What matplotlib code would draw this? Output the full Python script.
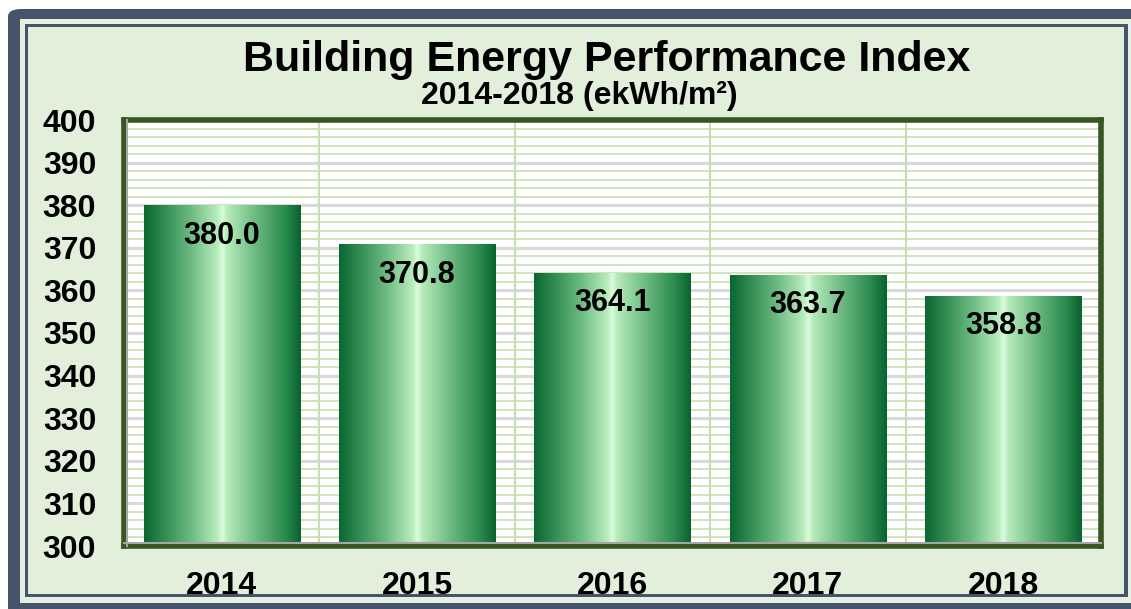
import numpy as np
import matplotlib
matplotlib.use("Agg")
from matplotlib import pyplot as plt
from matplotlib.patches import Rectangle, FancyBboxPatch
from matplotlib.colors import LinearSegmentedColormap

# datos del grafico
anios = ["2014", "2015", "2016", "2017", "2018"]
valores = [380.0, 370.8, 364.1, 363.7, 358.8]
etiquetas = ["380.0", "370.8", "364.1", "363.7", "358.8"]
titulo = "Building Energy Performance Index"
subtitulo = "2014-2018 (ekWh/m\u00b2)"

W, H = 1131, 609
plt.rcParams['font.family'] = ['Liberation Sans', 'DejaVu Sans']

fig = plt.figure(figsize=(W / 100, H / 100), dpi=100, facecolor="white")

def caja(x0, y0, x1, y1, color, z, redondo=False):
	"""Rectangulo en coordenadas de pixel (origen arriba a la izquierda)."""
	if redondo:
		p = FancyBboxPatch((x0 / W, 1 - y1 / H), (x1 - x0) / W, (y1 - y0) / H,
			boxstyle="round,pad=0,rounding_size=0.012", transform=fig.transFigure,
			facecolor=color, edgecolor="none", zorder=z)
	else:
		p = Rectangle((x0 / W, 1 - y1 / H), (x1 - x0) / W, (y1 - y0) / H,
			transform=fig.transFigure, facecolor=color, edgecolor="none", zorder=z)
	fig.patches.append(p)

pizarra = "#44546A"
verde_fondo = "#E2EFDA"
caja(8, 9, 1160, 640, pizarra, 0, redondo=True)
caja(20, 19, 1131, 603, "#E6F0E0", 1)
caja(25, 24, 1128, 597, pizarra, 2)
caja(28, 27, 1124, 594, verde_fondo, 3)

ax = fig.add_axes([124 / W, 1 - 546 / H, (1101 - 124) / W, (546 - 120) / H])
ax.set_facecolor("white")
ax.set_zorder(5)

# rejilla
ax.set_ylim(300, 400)
ax.set_xlim(-0.5, len(anios) - 0.5)
ax.set_yticks(np.arange(300, 401, 10))
ax.set_yticks(np.arange(300, 401, 2), minor=True)
ax.grid(True, which="minor", axis="y", color="#C6E0B4", lw=1.2)
ax.grid(True, which="major", axis="y", color="#D9D9D9", lw=2.2)
for xs in np.arange(0.5, len(anios) - 0.5, 1):
	ax.axvline(xs, color="#C6E0B4", lw=1.5, zorder=0.9)
ax.set_axisbelow(True)

# barras con degradado
cmap = LinearSegmentedColormap.from_list("barra", [
	(0.0, "#0B6732"), (0.12, "#2E8A50"), (0.3, "#6DBB83"), (0.47, "#B9EDBE"),
	(0.5, "#DDFBDD"), (0.53, "#B5EBBA"), (0.72, "#6AB880"), (0.9, "#2A8A4E"), (1.0, "#0A6331")])
grad = np.linspace(0, 1, 256).reshape(1, -1)
ancho = 0.8
x = np.arange(len(anios))
barras = ax.bar(x, valores, width=ancho, color="none", edgecolor="none", zorder=2)
for b, v in zip(barras, valores):
	im = ax.imshow(grad, cmap=cmap, aspect="auto", zorder=2,
		extent=[b.get_x(), b.get_x() + b.get_width(), 300, v])
	im.set_clip_path(b)
ax.set_xlim(-0.5, len(anios) - 0.5)
ax.set_ylim(300, 400)

for xi, v, t in zip(x, valores, etiquetas):
	ax.annotate(t, (xi, v), xytext=(0, -22), textcoords="offset points",
		ha="center", va="center", fontsize=22, fontweight="bold", color="black", zorder=4)

# marco del area de trazado
for s in ax.spines.values():
	s.set_color("#375623")
	s.set_linewidth(4)
ax.plot([0.003, 0.003], [0, 1], transform=ax.transAxes, color="#A6A6A6", lw=1.5, zorder=6, clip_on=False)
ax.plot([0, 1], [0.006, 0.006], transform=ax.transAxes, color="#A6A6A6", lw=1.5, zorder=6, clip_on=False)

ax.set_xticks(x)
ax.set_xticklabels(anios)
ax.tick_params(axis="x", length=0, pad=18, labelsize=23)
ax.tick_params(axis="y", which="both", length=0, pad=20, labelsize=23)
for lab in ax.get_xticklabels() + ax.get_yticklabels():
	lab.set_fontweight("bold")

fig.text(607 / W, 1 - 60 / H, titulo, ha="center", va="center", fontsize=31, fontweight="bold", zorder=10)
fig.text(579 / W, 1 - 96 / H, subtitulo, ha="center", va="center", fontsize=23, fontweight="bold", zorder=4)

fig.savefig("out.png", dpi=100, facecolor=fig.get_facecolor())
